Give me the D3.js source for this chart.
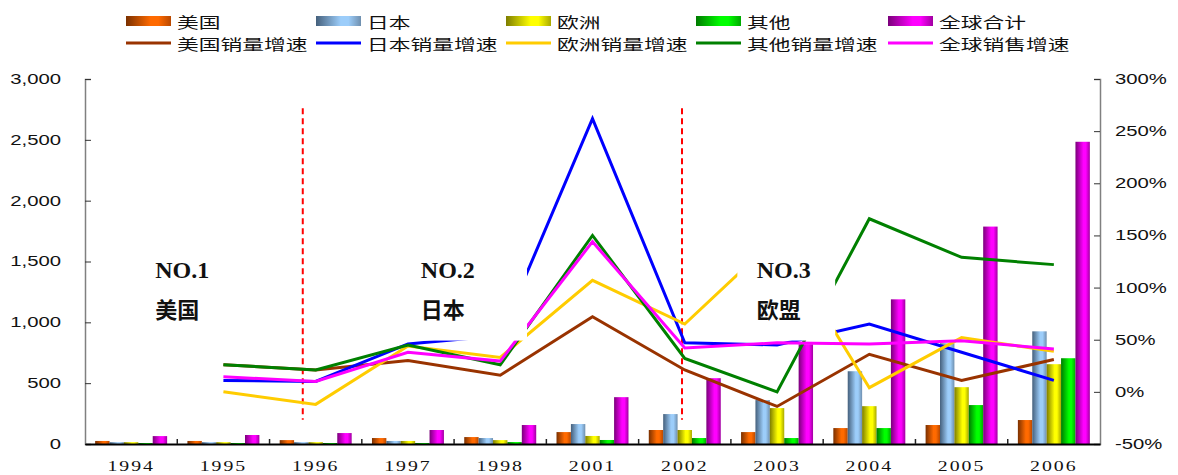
<!DOCTYPE html>
<html>
<head>
<meta charset="utf-8">
<script src="https://cdn.jsdelivr.net/npm/d3@7"></script>
<style>
  html, body { margin: 0; padding: 0; background: #fff; }
  svg { display: block; }
</style>
</head>
<body>
<svg id="chart" width="1178" height="475"></svg>
<script>
// ---- data ----
const years = ["1994", "1995", "1996", "1997", "1998", "2001", "2002", "2003", "2004", "2005", "2006"];

// sales volume (left axis)
const usSales     = [25, 25, 32, 49, 57, 98, 115, 98, 131, 156, 197];
const jpSales     = [15, 15, 15, 25, 49, 164, 246, 361, 598, 828, 926];
const euSales     = [15, 15, 15, 25, 32, 66, 115, 295, 311, 467, 656];
const otherSales  = [8, 8, 8, 8, 16, 33, 49, 49, 131, 320, 705];
const globalSales = [65, 74, 90, 115, 156, 385, 541, 820, 1189, 1787, 2484];

// growth rates in % (right axis); no value for the first year
const usGrowth     = [null, 26, 21, 30, 16, 72, 21, -14, 36, 11, 31];
const jpGrowth     = [null, 11, 10, 46, 54, 262, 47, 45, 65, 38, 11];
const euGrowth     = [null, 0, -12, 44, 33, 107, 65, 148, 4, 52, 39];
const otherGrowth  = [null, 26, 21, 45, 26, 150, 32, 0, 166, 129, 122];
const globalGrowth = [null, 14.5, 10, 38, 29.5, 144, 42, 47, 46, 49, 41];

const leftTicks  = [0, 500, 1000, 1500, 2000, 2500, 3000];
const rightTicks = [-50, 0, 50, 100, 150, 200, 250, 300];

const barNames  = ["美国", "日本", "欧洲", "其他", "全球合计"];
const lineNames = ["美国销量增速", "日本销量增速", "欧洲销量增速", "其他销量增速", "全球销售增速"];

// era annotations: position in category units, left-axis units for vertical placement
const eras = [
  { no: "NO.1", name: "美国", at: 0.76, box: [0.54, 1.62] },
  { no: "NO.2", name: "日本", at: 3.64, box: [3.40, 4.79] },
  { no: "NO.3", name: "欧盟", at: 7.28, box: [7.07, 8.13] }
];
const eraDividers = [2.36, 6.47];   // dashed separators, in category units

// ---- styling ----
const barColors = [
  { dark: "#7a3000", mid: "#ff6a00", edge: "#b84800" },
  { dark: "#45607c", mid: "#9ccdfa", edge: "#6f8fae" },
  { dark: "#7d7d00", mid: "#ffff00", edge: "#a8a800" },
  { dark: "#007a00", mid: "#00ff00", edge: "#00a800" },
  { dark: "#7a007a", mid: "#ff00ff", edge: "#a000a0" }
];
const lineColors = ["#993300", "#0000ff", "#ffcc00", "#008000", "#ff00ff"];

const sales  = [usSales, jpSales, euSales, otherSales, globalSales];
const growth = [usGrowth, jpGrowth, euGrowth, otherGrowth, globalGrowth];

// ---- layout ----
const plot = { left: 85, right: 1100, top: 79, bottom: 444 };
const svg = d3.select("#chart");

const x = d3.scaleBand().domain(years).range([plot.left, plot.right]).paddingInner(0).paddingOuter(0);
const bw = x.bandwidth();
const groupW = bw * 0.78;
const xs = d3.scaleBand().domain(d3.range(5)).range([(bw - groupW) / 2, (bw + groupW) / 2]);
const yL = d3.scaleLinear().domain([0, 3000]).range([plot.bottom, plot.top]);
const yR = d3.scaleLinear().domain([-50, 300]).range([plot.bottom, plot.top]);
const catX = c => plot.left + c * bw;

// gradients for the cylinder-like bars
const defs = svg.append("defs");
barColors.forEach((c, i) => {
  const g = defs.append("linearGradient").attr("id", "grad" + i)
    .attr("x1", 0).attr("x2", 1).attr("y1", 0).attr("y2", 0);
  g.append("stop").attr("offset", "0%").attr("stop-color", c.dark);
  g.append("stop").attr("offset", "55%").attr("stop-color", c.mid);
  g.append("stop").attr("offset", "72%").attr("stop-color", c.mid);
  g.append("stop").attr("offset", "100%").attr("stop-color", c.edge);
});

// ---- bars ----
const barLayer = svg.append("g");
sales.forEach((arr, si) => {
  barLayer.selectAll(null).data(arr.map((v, i) => ({ year: years[i], v })))
    .join("rect")
    .attr("x", d => x(d.year) + xs(si))
    .attr("width", xs.bandwidth())
    .attr("y", d => yL(d.v))
    .attr("height", d => yL(0) - yL(d.v))
    .attr("fill", `url(#grad${si})`);
});

// ---- era dividers ----
svg.append("g").selectAll("line").data(eraDividers).join("line")
  .attr("x1", d => catX(d)).attr("x2", d => catX(d))
  .attr("y1", yL(2760)).attr("y2", yL(200))
  .attr("stroke", "#ff0000").attr("stroke-width", 2).attr("stroke-dasharray", "6,4");

// ---- growth lines ----
const lineGen = d3.line()
  .defined(d => d.v !== null)
  .x(d => x(d.year) + bw / 2)
  .y(d => yR(d.v));
growth.forEach((arr, si) => {
  svg.append("path")
    .datum(arr.map((v, i) => ({ year: years[i], v })))
    .attr("d", lineGen)
    .attr("fill", "none")
    .attr("stroke", lineColors[si])
    .attr("stroke-width", 3)
    .attr("stroke-linejoin", "miter");
});

// ---- era labels with white backing ----
const eraLayer = svg.append("g");
eras.forEach(e => {
  eraLayer.append("rect")
    .attr("x", catX(e.box[0])).attr("width", catX(e.box[1]) - catX(e.box[0]))
    .attr("y", yL(1820)).attr("height", yL(850) - yL(1820))
    .attr("fill", "#fff");
  eraLayer.append("text")
    .attr("x", catX(e.at)).attr("y", yL(1363))
    .attr("font-family", "'Liberation Serif', 'Times New Roman', serif")
    .attr("font-weight", "bold").attr("font-size", 24).attr("fill", "#111")
    .text(e.no);
  eraLayer.append("text")
    .attr("x", catX(e.at)).attr("y", yL(1035))
    .attr("font-family", "'Noto Sans CJK SC', sans-serif")
    .attr("font-weight", "bold").attr("font-size", 22).attr("fill", "#111")
    .text(e.name);
});

// ---- axes ----
const stretch = 1.45;
const axisL = svg.append("g").attr("transform", `translate(${plot.left},0)`)
  .call(d3.axisLeft(yL).tickValues(leftTicks).tickFormat(d3.format(",")).tickSize(-6).tickPadding(24));
axisL.select(".domain").attr("stroke", "#808080").attr("stroke-width", 1.5);
axisL.selectAll(".tick line").attr("stroke", "#333");
axisL.selectAll(".tick text")
  .attr("x", 0)
  .attr("transform", `translate(-24,0) scale(${stretch},1)`)
  .attr("font-family", "'Liberation Sans', Arial, sans-serif")
  .attr("font-size", 14).attr("fill", "#111");

const axisR = svg.append("g").attr("transform", `translate(${plot.right},0)`)
  .call(d3.axisRight(yR).tickValues(rightTicks).tickFormat(d => d + "%").tickSize(-6).tickPadding(15));
axisR.select(".domain").attr("stroke", "#808080").attr("stroke-width", 1.5);
axisR.selectAll(".tick line").attr("stroke", "#333");
axisR.selectAll(".tick text")
  .attr("x", 0)
  .attr("transform", `translate(15,0) scale(${stretch},1)`)
  .attr("font-family", "'Liberation Sans', Arial, sans-serif")
  .attr("font-size", 14).attr("fill", "#111");

const axisB = svg.append("g").attr("transform", `translate(0,${plot.bottom})`)
  .call(d3.axisBottom(x).tickSize(0).tickPadding(17));
axisB.select(".domain").attr("stroke", "#000").attr("stroke-width", 2);
axisB.selectAll(".tick text")
  .attr("y", 0)
  .attr("transform", `translate(0,16) scale(1.32,1)`)
  .attr("font-family", "'Liberation Serif', 'Times New Roman', serif")
  .attr("font-size", 15).attr("letter-spacing", "1.5px").attr("fill", "#111");
// category separators
axisB.selectAll(".sep").data(years.slice(1)).join("line")
  .attr("x1", d => x(d)).attr("x2", d => x(d))
  .attr("y1", 0).attr("y2", -5)
  .attr("stroke", "#222").attr("stroke-width", 1.5);

// ---- legend ----
const legend = svg.append("g");
const legendX = [126, 316, 506, 696, 888];
barNames.forEach((n, i) => {
  legend.append("rect").attr("x", legendX[i]).attr("y", 16).attr("width", 45).attr("height", 10)
    .attr("fill", `url(#grad${i})`);
  legend.append("text")
    .attr("transform", `translate(${legendX[i] + 51},21) scale(${stretch},1)`)
    .attr("dominant-baseline", "central")
    .attr("font-family", "'Noto Sans CJK SC', sans-serif").attr("font-size", 15).attr("fill", "#111")
    .text(n);
});
lineNames.forEach((n, i) => {
  legend.append("line").attr("x1", legendX[i]).attr("x2", legendX[i] + 45)
    .attr("y1", 43).attr("y2", 43)
    .attr("stroke", lineColors[i]).attr("stroke-width", 3);
  legend.append("text")
    .attr("transform", `translate(${legendX[i] + 51},43) scale(${stretch},1)`)
    .attr("dominant-baseline", "central")
    .attr("font-family", "'Noto Sans CJK SC', sans-serif").attr("font-size", 15).attr("fill", "#111")
    .text(n);
});
</script>
</body>
</html>
